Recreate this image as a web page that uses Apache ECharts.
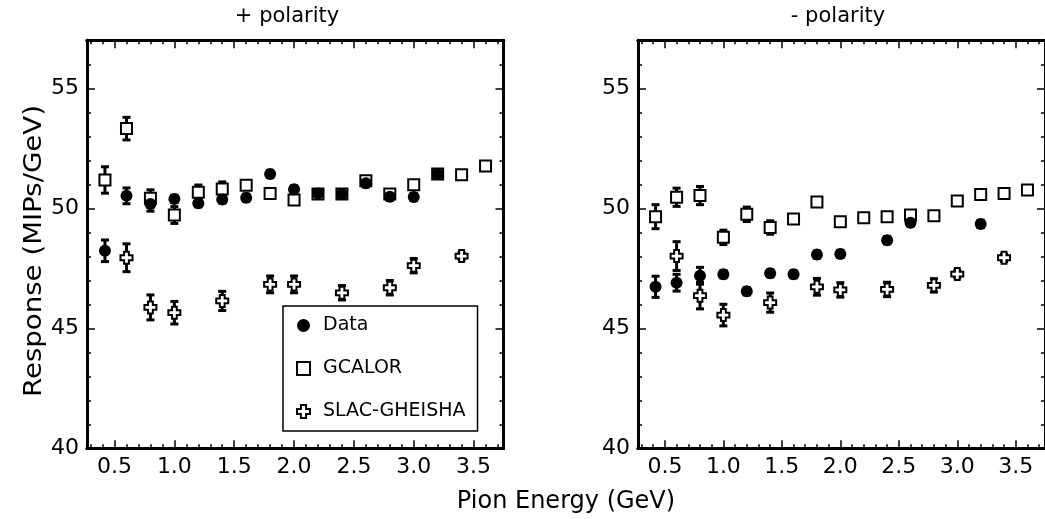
<!DOCTYPE html>
<html><head><meta charset="utf-8">
<script src="https://cdn.jsdelivr.net/npm/echarts@6/dist/echarts.min.js"></script>
<style>html,body{margin:0;padding:0;background:#fff}#c{width:1045px;height:519px}</style>
</head><body><div id="c"></div><script>
// ---- tick values ----
const xMajorTicks = [0.5, 1.0, 1.5, 2.0, 2.5, 3.0, 3.5];
const xMinorTicks = [0.3, 0.4, 0.6, 0.7, 0.8, 0.9, 1.1, 1.2, 1.3, 1.4, 1.6, 1.7, 1.8, 1.9, 2.1, 2.2, 2.3, 2.4, 2.6, 2.7, 2.8, 2.9, 3.1, 3.2, 3.3, 3.4, 3.6, 3.7];
const yMajorTicks = [40, 45, 50, 55];
const yMinorTicks = [41, 42, 43, 44, 46, 47, 48, 49, 51, 52, 53, 54, 56, 57];
const panelTitles = ['+ polarity', '- polarity'];
const seriesNames = ['Data', 'GCALOR', 'SLAC-GHEISHA'];

// ---- + polarity ----
const plusDataE   = [0.42, 0.6, 0.8, 1.0, 1.2, 1.4, 1.6, 1.8, 2.0, 2.2, 2.4, 2.6, 2.8, 3.0, 3.2];
const plusDataR   = [48.23, 50.52, 50.18, 50.39, 50.21, 50.37, 50.44, 51.43, 50.79, 50.62, 50.6, 51.04, 50.48, 50.47, 51.43];
const plusDataErr = [0.45, 0.33, 0.3, 0.15, 0.15, 0.15, 0.15, 0.15, 0.15, 0.15, 0.15, 0.15, 0.15, 0.15, 0.15];
const plusGcalE   = [0.42, 0.6, 0.8, 1.0, 1.2, 1.4, 1.6, 1.8, 2.0, 2.2, 2.4, 2.6, 2.8, 3.0, 3.2, 3.4, 3.6];
const plusGcalR   = [51.18, 53.32, 50.42, 49.72, 50.67, 50.8, 50.96, 50.62, 50.35, 50.6, 50.6, 51.15, 50.6, 50.98, 51.43, 51.4, 51.76];
const plusGcalErr = [0.55, 0.47, 0.35, 0.35, 0.3, 0.3, 0.15, 0.15, 0.15, 0.15, 0.15, 0.15, 0.15, 0.15, 0.15, 0.15, 0.15];
const plusSlacE   = [0.6, 0.8, 1.0, 1.4, 1.8, 2.0, 2.4, 2.8, 3.0, 3.4];
const plusSlacR   = [47.94, 45.87, 45.65, 46.14, 46.83, 46.83, 46.48, 46.69, 47.61, 48.01];
const plusSlacErr = [0.58, 0.52, 0.47, 0.4, 0.35, 0.35, 0.3, 0.3, 0.3, 0.15];

// ---- - polarity ----
const minusDataE   = [0.42, 0.6, 0.8, 1.0, 1.2, 1.4, 1.6, 1.8, 2.0, 2.4, 2.6, 3.2];
const minusDataR   = [46.73, 46.9, 47.19, 47.25, 46.54, 47.29, 47.25, 48.07, 48.1, 48.67, 49.4, 49.35];
const minusDataErr = [0.44, 0.35, 0.35, 0.15, 0.15, 0.15, 0.15, 0.15, 0.15, 0.15, 0.15, 0.15];
const minusGcalE   = [0.42, 0.6, 0.8, 1.0, 1.2, 1.4, 1.6, 1.8, 2.0, 2.2, 2.4, 2.6, 2.8, 3.0, 3.2, 3.4, 3.6];
const minusGcalR   = [49.65, 50.46, 50.53, 48.79, 49.75, 49.2, 49.55, 50.26, 49.44, 49.61, 49.65, 49.72, 49.69, 50.3, 50.58, 50.62, 50.76];
const minusGcalErr = [0.5, 0.38, 0.38, 0.3, 0.3, 0.28, 0.15, 0.15, 0.15, 0.15, 0.15, 0.15, 0.15, 0.15, 0.15, 0.15, 0.15];
const minusSlacE   = [0.6, 0.8, 1.0, 1.4, 1.8, 2.0, 2.4, 2.8, 3.0, 3.4];
const minusSlacR   = [48.01, 46.36, 45.55, 46.07, 46.73, 46.6, 46.62, 46.79, 47.26, 47.94];
const minusSlacErr = [0.6, 0.55, 0.45, 0.4, 0.35, 0.3, 0.3, 0.28, 0.15, 0.15];

const FONT = '"DejaVu Sans", "Liberation Sans", Arial, sans-serif';
const X_MIN = 0.27, X_MAX = 3.75, Y_MIN = 40, Y_MAX = 57;
const CROSS = 'path://M3,0L7,0L7,3L10,3L10,7L7,7L7,10L3,10L3,7L0,7L0,3L3,3Z';

const panels = [
  {data: [plusDataE, plusDataR, plusDataErr], gcal: [plusGcalE, plusGcalR, plusGcalErr], slac: [plusSlacE, plusSlacR, plusSlacErr]},
  {data: [minusDataE, minusDataR, minusDataErr], gcal: [minusGcalE, minusGcalR, minusGcalErr], slac: [minusSlacE, minusSlacR, minusSlacErr]}
];

const zip = (a) => a[0].map((x, i) => [x, a[1][i], a[2][i]]);
const lineStyle = {color: '#000', width: 3};

function xAxes(gi) {
  const base = {type: 'value', gridIndex: gi, min: X_MIN, max: X_MAX, splitLine: {show: false},
    axisLine: {show: true, onZero: false, lineStyle}};
  const mk = (pos, major) => Object.assign({}, base, {
    position: pos,
    axisTick: {show: true, inside: true, length: major ? 8 : 4, lineStyle: {color: '#000', width: 1.5},
      customValues: major ? xMajorTicks : xMinorTicks},
    axisLabel: (major && pos === 'bottom') ? {show: true, customValues: xMajorTicks, formatter: v => Number(v).toFixed(1),
      fontSize: 22, color: '#000', fontFamily: FONT, margin: 8} : {show: false}
  });
  return [mk('bottom', true), mk('bottom', false), mk('top', true), mk('top', false)];
}
function yAxes(gi) {
  const base = {type: 'value', gridIndex: gi, min: Y_MIN, max: Y_MAX, splitLine: {show: false},
    axisLine: {show: true, onZero: false, lineStyle}};
  const mk = (pos, major) => Object.assign({}, base, {
    position: pos,
    axisTick: {show: true, inside: true, length: major ? 8 : 4, lineStyle: {color: '#000', width: 1.5},
      customValues: major ? yMajorTicks : yMinorTicks},
    axisLabel: (major && pos === 'left') ? {show: true, customValues: yMajorTicks,
      fontSize: 22, color: '#000', fontFamily: FONT, margin: 8} : {show: false}
  });
  return [mk('left', true), mk('left', false), mk('right', true), mk('right', false)];
}

function errSeries(gi, arr) {
  return {
    type: 'custom', xAxisIndex: gi * 4, yAxisIndex: gi * 4, z: 2, silent: true,
    data: zip(arr),
    renderItem: function (params, api) {
      const x = api.value(0), y = api.value(1), e = api.value(2);
      const t = api.coord([x, y + e]), b = api.coord([x, y - e]);
      const hw = 4;
      const st = {stroke: '#000', lineWidth: 3, fill: null};
      return {type: 'group', children: [
        {type: 'line', shape: {x1: t[0], y1: t[1], x2: b[0], y2: b[1]}, style: st},
        {type: 'line', shape: {x1: t[0] - hw, y1: t[1], x2: t[0] + hw, y2: t[1]}, style: st},
        {type: 'line', shape: {x1: b[0] - hw, y1: b[1], x2: b[0] + hw, y2: b[1]}, style: st}
      ]};
    }
  };
}

const series = [];
panels.forEach((p, gi) => {
  series.push(errSeries(gi, p.gcal), errSeries(gi, p.slac), errSeries(gi, p.data));
  series.push({name: 'GCALOR', type: 'scatter', xAxisIndex: gi * 4, yAxisIndex: gi * 4, z: 3,
    symbol: 'rect', symbolSize: 11, itemStyle: {color: '#fff', borderColor: '#000', borderWidth: 2, opacity: 1},
    data: p.gcal[0].map((x, i) => [x, p.gcal[1][i]])});
  series.push({name: 'SLAC-GHEISHA', type: 'scatter', xAxisIndex: gi * 4, yAxisIndex: gi * 4, z: 3,
    symbol: CROSS, symbolSize: 12, itemStyle: {color: '#fff', borderColor: '#000', borderWidth: 2, opacity: 1},
    data: p.slac[0].map((x, i) => [x, p.slac[1][i]])});
  series.push({name: 'Data', type: 'scatter', xAxisIndex: gi * 4, yAxisIndex: gi * 4, z: 4,
    symbol: 'circle', symbolSize: 12, itemStyle: {color: '#000', opacity: 1},
    data: p.data[0].map((x, i) => [x, p.data[1][i]])});
});

const option = {
  animation: false,
  backgroundColor: '#fff',
  grid: [
    {left: 87, top: 40.3, width: 416.5, height: 408},
    {left: 638, top: 40.3, width: 416.5, height: 408}
  ],
  xAxis: [...xAxes(0), ...xAxes(1)],
  yAxis: [...yAxes(0), ...yAxes(1)],
  legend: {
    data: seriesNames, orient: 'vertical', left: 283, top: 306,
    padding: [10, 12, 10, 13], itemGap: 24, itemWidth: 13, itemHeight: 13,
    borderColor: '#000', borderWidth: 1.5, backgroundColor: '#fff',
    textStyle: {fontSize: 19, color: '#000', fontFamily: FONT, padding: [0, 0, 0, 8]}, selectedMode: false, z: 10
  },
  graphic: [
    {type: 'text', x: 287, y: 17, style: {text: panelTitles[0], font: '21px ' + FONT, fill: '#000', align: 'center', verticalAlign: 'middle'}},
    {type: 'text', x: 838, y: 17, style: {text: panelTitles[1], font: '21px ' + FONT, fill: '#000', align: 'center', verticalAlign: 'middle'}},
    {type: 'text', x: 566, y: 502, style: {text: 'Pion Energy (GeV)', font: '24px ' + FONT, fill: '#000', align: 'center', verticalAlign: 'middle'}},
    {type: 'text', x: 35, y: 251, rotation: Math.PI / 2, scaleX: 1.15, style: {text: 'Response (MIPs/GeV)', font: '24px ' + FONT, fill: '#000', align: 'center', verticalAlign: 'middle'}}
  ],
  series
};
const chart = echarts.init(document.getElementById('c'), null, {renderer: 'canvas'});
chart.setOption(option);
</script></body></html>
